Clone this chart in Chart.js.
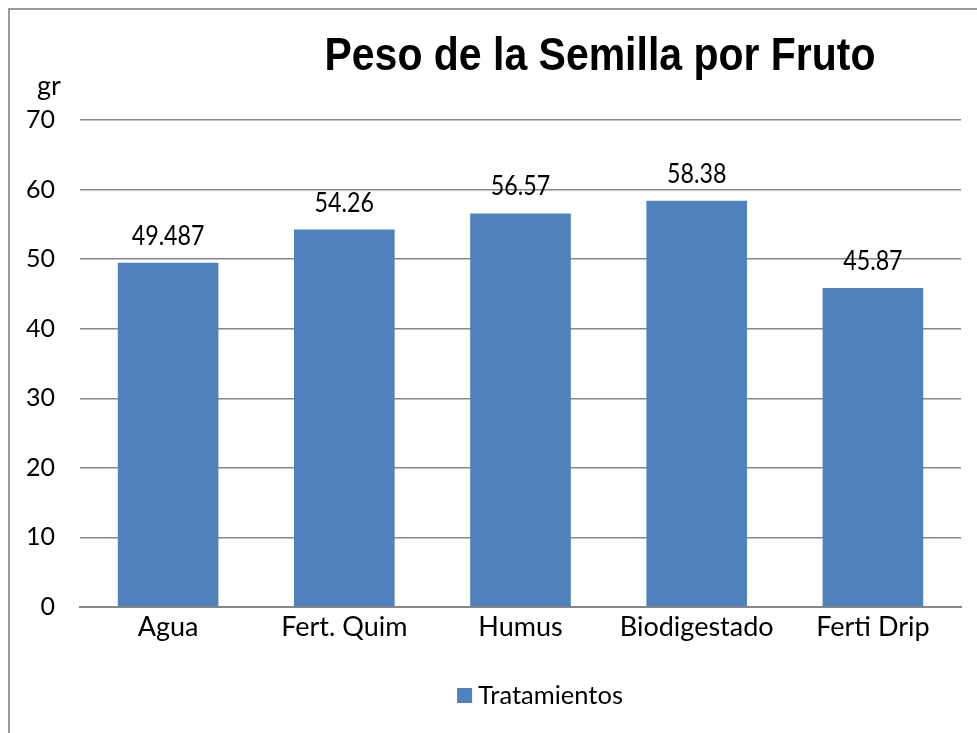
<!DOCTYPE html>
<html>
<head>
<meta charset="utf-8">
<script src="https://cdn.jsdelivr.net/npm/chart.js@4/dist/chart.umd.min.js"></script>
<style>
html,body{margin:0;padding:0;background:#fff;}
#wrap{width:977px;height:733px;position:relative;}
</style>
</head>
<body>
<div id="wrap"><canvas id="c" width="977" height="733"></canvas></div>
<script>
const categories = ["Agua", "Fert. Quim", "Humus", "Biodigestado", "Ferti Drip"];
const seriesName = "Tratamientos";
const values = [49.487, 54.26, 56.57, 58.38, 45.87];
const valueLabels = ["49.487", "54.26", "56.57", "58.38", "45.87"];
const titleText = "Peso de la Semilla por Fruto";
const unitText = "gr";

const FONT = "Lato, 'Open Sans', sans-serif";
const BAR = "#4F81BD";
const GRID = "#878787";

function narrowText(ctx, text, x, y, sx) {
  ctx.save();
  ctx.translate(x, y);
  ctx.scale(sx, 1);
  ctx.fillText(text, 0, 0);
  ctx.restore();
}

const decor = {
  id: 'decor',
  beforeDraw(chart) {
    const ctx = chart.ctx;
    ctx.save();
    ctx.fillStyle = '#fff';
    ctx.fillRect(0, 0, chart.width, chart.height);
    ctx.strokeStyle = '#9a9a9a';
    ctx.lineWidth = 2;
    ctx.beginPath();
    ctx.moveTo(9, chart.height);
    ctx.lineTo(9, 9);
    ctx.lineTo(chart.width, 9);
    ctx.stroke();
    ctx.restore();
  },
  afterDraw(chart) {
    const ctx = chart.ctx;
    ctx.save();
    // title (condensed bold)
    ctx.fillStyle = '#000';
    ctx.font = "bold 46px 'Liberation Sans', Arial, sans-serif";
    ctx.textAlign = 'center';
    ctx.textBaseline = 'alphabetic';
    const tW = ctx.measureText(titleText).width;
    narrowText(ctx, titleText, 600, 70, 551 / tW);
    // unit
    ctx.font = "27px " + FONT;
    ctx.fillText(unitText, 49, 95);
    // value labels
    const meta = chart.getDatasetMeta(0);
    ctx.font = "27px " + FONT;
    meta.data.forEach((bar, i) => {
      narrowText(ctx, valueLabels[i], bar.x, bar.y - 18, 0.86);
    });
    // legend
    const ds = chart.data.datasets[0];
    ctx.font = "25.5px " + FONT;
    ctx.textAlign = 'left';
    const tw = ctx.measureText(ds.label).width;
    const total = 15 + 6 + tw;
    const x0 = 540 - total / 2;
    ctx.fillStyle = ds.backgroundColor;
    ctx.fillRect(x0, 688, 15, 15);
    ctx.fillStyle = '#000';
    ctx.fillText(ds.label, x0 + 21, 704);
    ctx.restore();
  }
};

new Chart(document.getElementById('c'), {
  type: 'bar',
  data: {
    labels: categories,
    datasets: [{
      label: seriesName,
      data: values,
      backgroundColor: BAR,
      borderWidth: 0,
      barPercentage: 0.571,
      categoryPercentage: 1.0
    }]
  },
  options: {
    responsive: false,
    animation: false,
    devicePixelRatio: 1,
    layout: { padding: { left: 0, right: 16, top: 120, bottom: 0 } },
    plugins: {
      legend: { display: false },
      title: { display: false },
      tooltip: { enabled: false }
    },
    scales: {
      x: {
        grid: { display: false, drawTicks: false },
        border: { display: true, color: GRID, width: 2 },
        ticks: { color: '#000', font: { family: FONT, size: 27 }, padding: 4, maxRotation: 0, autoSkip: false },
        afterFit(scale) { scale.height = 733 - 607; }
      },
      y: {
        min: 0, max: 70,
        ticks: { stepSize: 10, color: '#000', font: { family: FONT, size: 25 }, padding: 25 },
        grid: { color: GRID, lineWidth: 1.5, drawTicks: false },
        border: { display: false },
        afterFit(scale) { scale.width = 80; }
      }
    }
  },
  plugins: [decor]
});
</script>
</body>
</html>
